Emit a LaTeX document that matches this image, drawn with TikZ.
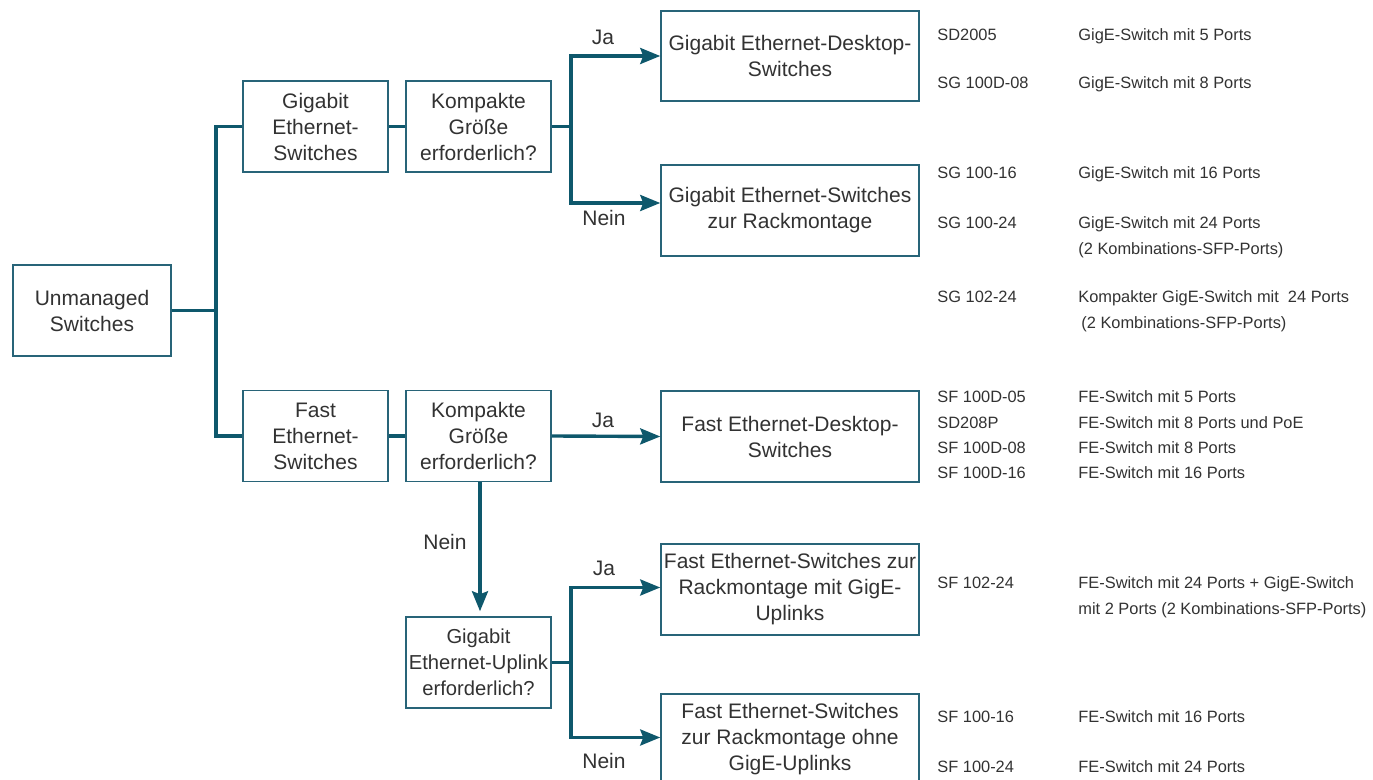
\documentclass[tikz,border=0pt]{standalone}
\usepackage{fontspec}
\setmainfont{Liberation Sans}
\usetikzlibrary{arrows.meta}
\definecolor{linec}{RGB}{14,88,108}
\definecolor{boxc}{RGB}{40,100,120}
\definecolor{txtc}{RGB}{50,50,50}
\newcommand\bxfont{\fontsize{10.5}{13}\selectfont}
\newcommand\bxsmall{\fontsize{10.1}{13}\selectfont}
\newcommand\tbfont{\fontsize{8.2}{10}\selectfont}
\begin{document}
\begin{tikzpicture}[x=0.5pt,y=-0.5pt,
  box/.style={draw=boxc, line width=0.75pt, minimum width=72.5pt, minimum height=45.5pt,
    inner sep=0pt, align=center, font=\bxfont, text=txtc},
  widebox/.style={box, minimum width=129pt},
  conn/.style={draw=linec, line width=1.7pt},
  arr/.style={conn, -{Stealth[length=10pt,width=8pt,inset=1.5pt]}},
  lbl/.style={inner sep=0pt, font=\bxfont, text=txtc},
  tb/.style={inner sep=0pt, anchor=base west, font=\tbfont, text=txtc}]
\useasboundingbox (0,0) rectangle (1373,780);

% boxes
\node[box, minimum width=79pt] (un) at (92,310.5) {Unmanaged\\Switches};
\node[box] (ges) at (315.5,126.5) {Gigabit\\Ethernet-\\Switches};
\node[box] (k1) at (478.5,126.5) {Kompakte\\Größe\\erforderlich?};
\node[widebox, minimum height=45pt] (gd) at (790,56) {Gigabit Ethernet-Desktop-\\Switches};
\node[widebox] (gr) at (790,210.5) {Gigabit Ethernet-Switches\\zur Rackmontage};
\node[box] (fes) at (315.5,436) {Fast\\Ethernet-\\Switches};
\node[box] (k2) at (478.5,436) {Kompakte\\Größe\\erforderlich?};
\node[widebox] (fd) at (790,436.5) {Fast Ethernet-Desktop-\\Switches};
\node[box, font=\bxsmall] (up) at (478.5,662.5) {Gigabit\\Ethernet-Uplink\\erforderlich?};
\node[widebox] (fr1) at (790,589.5) {Fast Ethernet-Switches zur\\Rackmontage mit GigE-\\Uplinks};
\node[widebox] (fr2) at (790,739.5) {Fast Ethernet-Switches\\zur Rackmontage ohne\\GigE-Uplinks};

% junctions
\coordinate (j1) at (216,310.5);
\coordinate (j2) at (571,126.5);
\coordinate (j3) at (571,662.5);

% connectors
\draw[conn] (un.east) -- (j1);
\draw[conn] (ges.west) -| (j1) |- (fes.west);
\draw[conn] (ges.east) -- (k1.west);
\draw[conn] (k1.east) -- (j2);
\draw[arr] (j2) |- (gd.west);
\draw[arr] (j2) |- ([yshift=3.75pt]gr.west);
\draw[conn] (fes.east) -- (k2.west);
\draw[arr] (k2.east) -- (fd.west);
\draw[arr] ([xshift=0.75pt]k2.south) -- ([xshift=0.75pt,yshift=2.5pt]up.north);
\draw[conn] (up.east) -- (j3);
\draw[arr] (j3) |- ([yshift=1pt]fr1.west);
\draw[arr] (j3) |- ([yshift=1pt]fr2.west);

% labels
\node[lbl] (l1) at (603,37) {Ja};
\node[lbl] (l2) at (604,218) {Nein};
\node[lbl] (l3) at (603,420) {Ja};
\node[lbl] (l4) at (445,542) {Nein};
\node[lbl] (l5) at (604,568) {Ja};
\node[lbl] (l6) at (604,761) {Nein};

% table
\node[tb] (a1) at (937,41) {SD2005};
\node[tb] (b1) at (1078,41) {GigE-Switch mit 5 Ports};
\node[tb] (a2) at (937,89) {SG 100D-08};
\node[tb] (b2) at (1078,89) {GigE-Switch mit 8 Ports};
\node[tb] (a3) at (937,179) {SG 100-16};
\node[tb] (b3) at (1078,179) {GigE-Switch mit 16 Ports};
\node[tb] (a4) at (937,229) {SG 100-24};
\node[tb] (b4) at (1078,229) {GigE-Switch mit 24 Ports};
\node[tb] (b4b) at (1078,255) {(2 Kombinations-SFP-Ports)};
\node[tb] (a5) at (937,303) {SG 102-24};
\node[tb] (b5) at (1078,303) {Kompakter GigE-Switch mit\ \ 24 Ports};
\node[tb] (b5b) at (1081,329) {(2 Kombinations-SFP-Ports)};
\node[tb] (a6) at (937,403) {SF 100D-05};
\node[tb] (b6) at (1078,403) {FE-Switch mit 5 Ports};
\node[tb] (a7) at (937,429) {SD208P};
\node[tb] (b7) at (1078,429) {FE-Switch mit 8 Ports und PoE};
\node[tb] (a8) at (937,454) {SF 100D-08};
\node[tb] (b8) at (1078,454) {FE-Switch mit 8 Ports};
\node[tb] (a9) at (937,479) {SF 100D-16};
\node[tb] (b9) at (1078,479) {FE-Switch mit 16 Ports};
\node[tb] (a10) at (937,589) {SF 102-24};
\node[tb] (b10) at (1078,589) {FE-Switch mit 24 Ports + GigE-Switch};
\node[tb] (b10b) at (1078,615) {mit 2 Ports (2 Kombinations-SFP-Ports)};
\node[tb] (a11) at (937,723) {SF 100-16};
\node[tb] (b11) at (1078,723) {FE-Switch mit 16 Ports};
\node[tb] (a12) at (937,773) {SF 100-24};
\node[tb] (b12) at (1078,773) {FE-Switch mit 24 Ports};
\end{tikzpicture}
\end{document}
